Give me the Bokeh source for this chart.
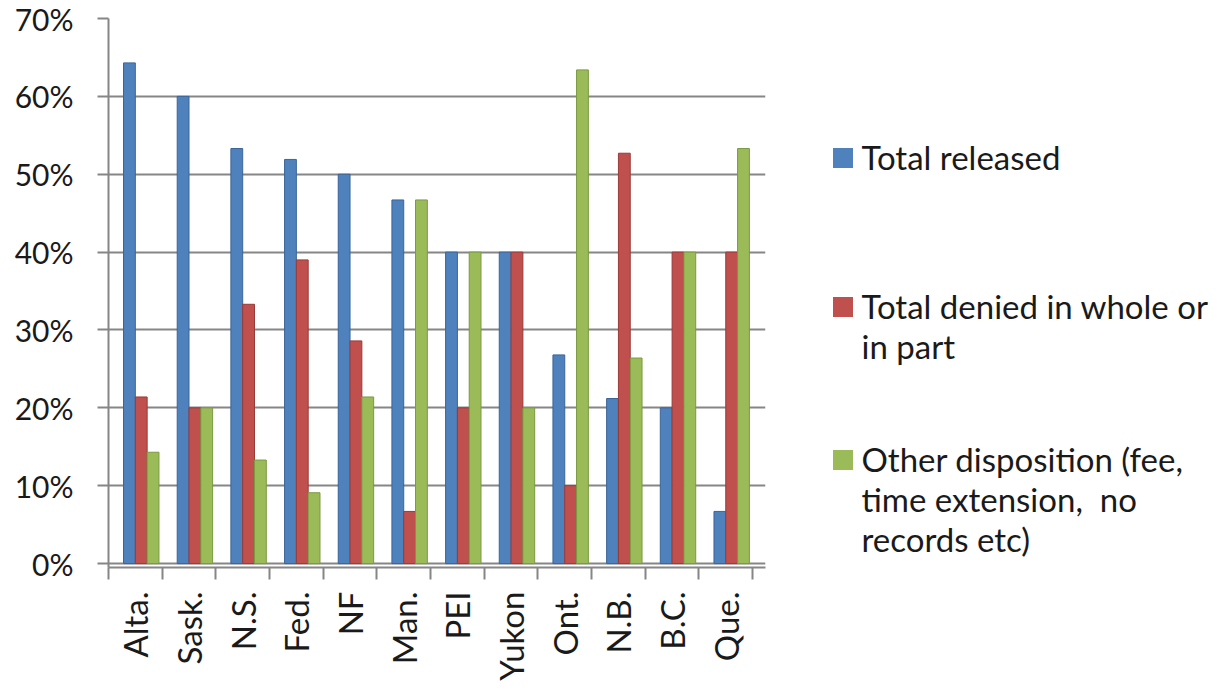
import math
import json
import numpy as np
from bokeh.plotting import figure
from bokeh.layouts import row
from bokeh.models import (ColumnDataSource, Range1d, FixedTicker, NumeralTickFormatter,
                          CustomJSTickFormatter, Legend, LegendItem)
from bokeh.transform import dodge
from bokeh.embed import file_html
from bokeh.resources import INLINE

categories = ["Alta.", "Sask.", "N.S.", "Fed.", "NF", "Man.", "PEI", "Yukon", "Ont.", "N.B.", "B.C.", "Que."]
total_released = [0.643, 0.600, 0.533, 0.519, 0.500, 0.467, 0.400, 0.400, 0.268, 0.212, 0.200, 0.067]
total_denied = [0.214, 0.200, 0.333, 0.390, 0.286, 0.067, 0.200, 0.400, 0.100, 0.527, 0.400, 0.400]
other_disposition = [0.143, 0.200, 0.133, 0.091, 0.214, 0.467, 0.400, 0.200, 0.634, 0.264, 0.400, 0.533]
# legend labels, wrapped as in the reference
series_lines = [["Total released"],
                ["Total denied in whole or", "in part"],
                ["Other disposition (fee,", "time extension,  no", "records etc)"]]
y_ticks = [0, 0.1, 0.2, 0.3, 0.4, 0.5, 0.6, 0.7]

colors = ["#4F81BD", "#C0504D", "#9BBB59"]
edges = ["#3A6599", "#9A3A38", "#7A9A40"]
FONT = "Lato"
GRAY = "#868686"
TEXT = "#1a1a1a"

src = ColumnDataSource(dict(x=np.arange(len(categories)) + 0.5,
                            rel=total_released, den=total_denied, oth=other_disposition))

p = figure(width=790, height=691, output_backend="svg", toolbar_location=None,
           x_range=Range1d(0, 12.24), y_range=Range1d(-0.005, 0.70),
           min_border_left=108, min_border_top=18, min_border_bottom=124, min_border_right=25)
p.outline_line_color = None
p.background_fill_color = "white"
p.border_fill_color = "white"

p.xgrid.grid_line_color = None
p.ygrid.ticker = FixedTicker(ticks=y_ticks)
p.ygrid.grid_line_color = GRAY
p.ygrid.grid_line_width = 2

p.yaxis.ticker = FixedTicker(ticks=y_ticks)
p.yaxis.formatter = NumeralTickFormatter(format="0%")
p.yaxis.axis_line_color = GRAY
p.yaxis.axis_line_width = 2
p.yaxis.major_tick_line_color = GRAY
p.yaxis.major_tick_line_width = 2
p.yaxis.major_tick_out = 11
p.yaxis.major_tick_in = 0
p.yaxis.minor_tick_line_color = None
p.yaxis.major_label_text_font = FONT
p.yaxis.major_label_text_font_size = "30px"
p.yaxis.major_label_text_color = TEXT
p.yaxis.major_label_standoff = 24

p.xaxis.ticker = FixedTicker(ticks=list(np.arange(len(categories)) + 0.5),
                             minor_ticks=list(range(len(categories) + 1)))
p.xaxis.formatter = CustomJSTickFormatter(
    code="const names = %s; return names[Math.floor(tick)];" % json.dumps(categories))
p.xaxis.axis_line_color = GRAY
p.xaxis.axis_line_width = 2
p.xaxis.major_tick_line_color = None
p.xaxis.minor_tick_line_color = GRAY
p.xaxis.minor_tick_line_width = 2
p.xaxis.minor_tick_out = 12
p.xaxis.minor_tick_in = 0
p.xaxis.major_label_orientation = math.pi / 2
p.xaxis.major_label_text_font = FONT
p.xaxis.major_label_text_font_size = "33px"
p.xaxis.major_label_text_color = TEXT
p.xaxis.major_label_standoff = 12

w = 0.22
r1 = p.vbar(x=dodge("x", -0.11, range=p.x_range), top="rel", width=w, source=src,
            fill_color=colors[0], line_color=edges[0], line_width=1)
r2 = p.vbar(x=dodge("x", 0.11, range=p.x_range), top="den", width=w, source=src,
            fill_color=colors[1], line_color=edges[1], line_width=1)
r3 = p.vbar(x=dodge("x", 0.33, range=p.x_range), top="oth", width=w, source=src,
            fill_color=colors[2], line_color=edges[2], line_width=1)

# legend panel (its renderers sit outside its visible range; only the legend shows)
q = figure(width=435, height=691, output_backend="svg", toolbar_location=None,
           x_range=Range1d(0, 1), y_range=Range1d(0, 1), x_axis_type=None, y_axis_type=None,
           min_border=0)
q.outline_line_color = None
q.xgrid.grid_line_color = None
q.ygrid.grid_line_color = None
swatches = [q.vbar(x=[5], top=[1], width=0.1, fill_color=c, line_color=None) for c in colors]
blank = q.vbar(x=[5], top=[1], width=0.1, fill_alpha=0, line_alpha=0)

locs = [(39.5, 390), (39.5, 201), (39.5, 8)]
for sw, lines, loc in zip(swatches, series_lines, locs):
    items = [LegendItem(label=lines[0], renderers=[sw])]
    items += [LegendItem(label=t, renderers=[blank]) for t in lines[1:]]
    lg = Legend(items=items, location=loc, spacing=0,
                border_line_color=None, background_fill_alpha=0, padding=0, margin=0,
                glyph_width=25, glyph_height=25, label_standoff=7, label_height=39,
                label_text_font=FONT, label_text_font_size="33px",
                label_text_color=TEXT)
    q.add_layout(lg, "center")

layout = row(p, q)
open("out.html", "w").write(file_html(layout, INLINE))
